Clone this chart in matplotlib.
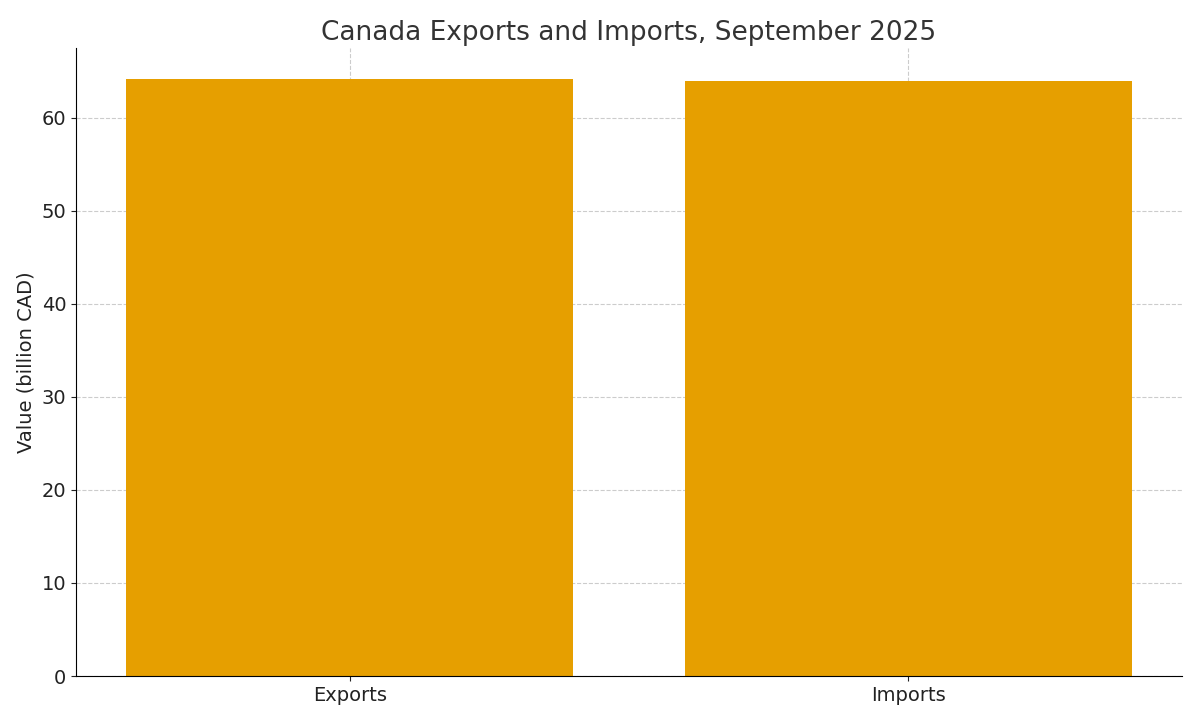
import matplotlib
matplotlib.use("Agg")
import matplotlib.pyplot as plt

categories = ["Exports", "Imports"]
values = [64.2, 64.0]

fig = plt.figure(figsize=(12, 7.2), dpi=100)
ax = fig.add_axes([76/1200, 1-676/720, (1182-76)/1200, (676-48)/720])
ax.bar(categories, values, width=0.8, color="#E69F00", zorder=2)
ax.set_xlim(-0.49, 1.49)
ax.set_ylim(0, 67.5)
ax.grid(True, linestyle="--", color="#cccccc", linewidth=0.8, zorder=0)
ax.set_axisbelow(True)
for s in ["top", "right"]:
    ax.spines[s].set_visible(False)
ax.tick_params(labelsize=14, colors="#222222")
ax.set_ylabel("Value (billion CAD)", fontsize=14, color="#222222")
ax.set_title("Canada Exports and Imports, September 2025", fontsize=19, color="#333333")
fig.savefig("out.png", dpi=100)
